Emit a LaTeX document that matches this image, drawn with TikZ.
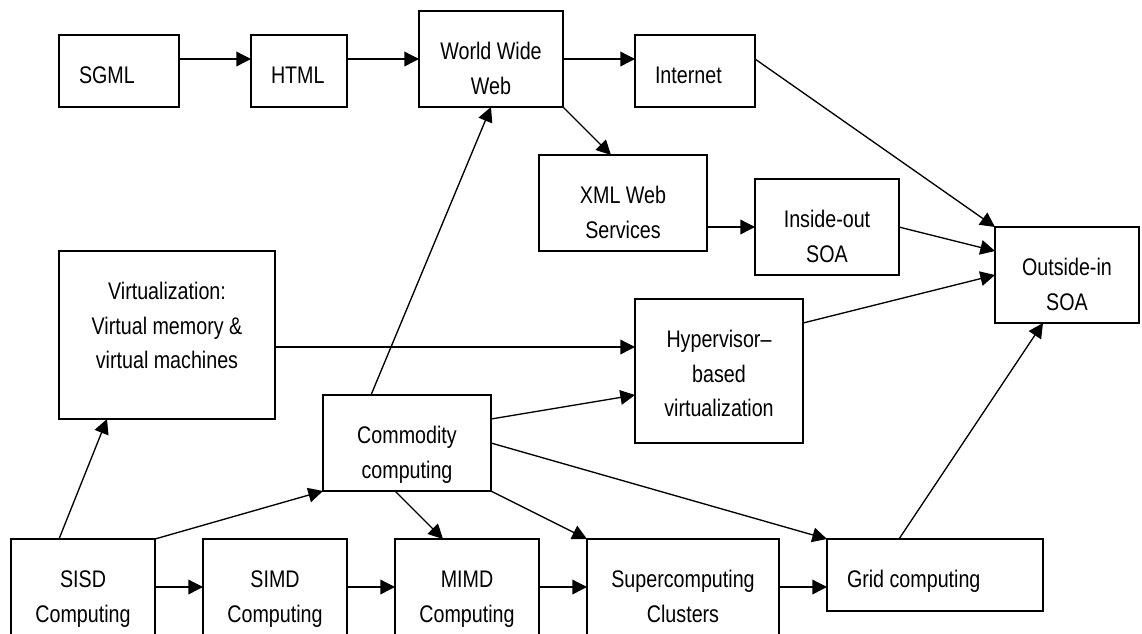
\documentclass[tikz,border=0pt]{standalone}
\usepackage{fontspec}
\setmainfont{Liberation Sans}[FakeStretch=0.82]
\usetikzlibrary{arrows.meta,calc}
\newlength\pxu \setlength\pxu{0.75pt}
\newcommand\fsz{\fontsize{18pt}{25.9pt}\selectfont}
\newcommand\cbx[3]{\parbox[c][#2\pxu][t]{#1\pxu}{\fsz\centering\rule{0pt}{48.6\pxu}#3\par}}
\newcommand\lbx[3]{\parbox[c][#2\pxu][t]{#1\pxu}{\fsz\raggedright\leavevmode\hspace*{20\pxu}\rule{0pt}{48.6\pxu}#3\par}}
\begin{document}
\begin{tikzpicture}[x=0.75pt,y=-0.75pt,
  box/.style={draw, line width=1.2pt, inner sep=0pt, outer sep=0pt, anchor=north west},
  conn/.style={line width=1pt, -{Triangle[length=11pt,width=11pt]}}]
\useasboundingbox (0,0) rectangle (1142,633);
\clip (0,0) rectangle (1142,633);
% boxes
\node[box] (sgml) at (59,35) {\lbx{120}{72}{SGML}};
\node[box] (html) at (251,35) {\lbx{96}{72}{HTML}};
\node[box] (www) at (419,11) {\cbx{144}{96}{World Wide\\Web}};
\node[box] (inet) at (635,35) {\lbx{120}{72}{Internet}};
\node[box] (xml) at (539,155) {\cbx{168}{96}{XML Web\\Services}};
\node[box] (inout) at (755,179) {\cbx{144}{96}{Inside-out\\SOA}};
\node[box] (outin) at (995,227) {\cbx{144}{96}{Outside-in\\SOA}};
\node[box] (virt) at (59,251) {\cbx{216}{168}{Virtualization:\\Virtual memory \&\\virtual machines}};
\node[box] (hyp) at (635,299) {\cbx{168}{144}{Hypervisor\textendash\\based\\virtualization}};
\node[box] (comm) at (323,395) {\cbx{168}{96}{Commodity\\computing}};
\node[box] (sisd) at (11,539) {\cbx{144}{96}{SISD\\Computing}};
\node[box] (simd) at (203,539) {\cbx{144}{96}{SIMD\\Computing}};
\node[box] (mimd) at (395,539) {\cbx{144}{96}{MIMD\\Computing}};
\node[box] (super) at (587,539) {\cbx{192}{96}{Supercomputing\\Clusters}};
\node[box] (grid) at (827,539) {\lbx{216}{72}{Grid computing}};
% connectors
\draw[conn] ($(sgml.north east)+(0,24)$) -- ($(html.north west)+(0,24)$);
\draw[conn] ($(html.north east)+(0,24)$) -- (www.west);
\draw[conn] (www.east) -- ($(inet.north west)+(0,24)$);
\draw[conn] (www.south east) -- ($(xml.north west)+(72,0)$);
\draw[conn] ($(inet.north east)+(0,24)$) -- (outin.north west);
\draw[conn] ($(xml.north east)+(0,72)$) -- (inout.west);
\draw[conn] (inout.east) -- ($(outin.north west)+(0,24)$);
\draw[conn] ($(hyp.north east)+(0,24)$) -- (outin.west);
\draw[conn] ($(grid.north west)+(72,0)$) -- ($(outin.south west)+(48,0)$);
\draw[conn] ($(virt.north east)+(0,96)$) -- ($(hyp.north west)+(0,48)$);
\draw[conn] ($(comm.north east)+(0,24)$) -- ($(hyp.north west)+(0,96)$);
\draw[conn] ($(comm.north west)+(48,0)$) -- (www.south);
\draw[conn] (comm.east) -- (grid.north west);
\draw[conn] ($(comm.south west)+(72,0)$) -- ($(mimd.north west)+(48,0)$);
\draw[conn] (comm.south east) -- (super.north west);
\draw[conn] ($(sisd.north west)+(48,0)$) -- ($(virt.south west)+(48,0)$);
\draw[conn] (sisd.north east) -- (comm.south west);
\draw[conn] ($(sisd.north east)+(0,48)$) -- ($(simd.north west)+(0,48)$);
\draw[conn] ($(simd.north east)+(0,48)$) -- ($(mimd.north west)+(0,48)$);
\draw[conn] ($(mimd.north east)+(0,48)$) -- ($(super.north west)+(0,48)$);
\draw[conn] ($(super.north east)+(0,48)$) -- ($(grid.north west)+(0,48)$);
\end{tikzpicture}
\end{document}
